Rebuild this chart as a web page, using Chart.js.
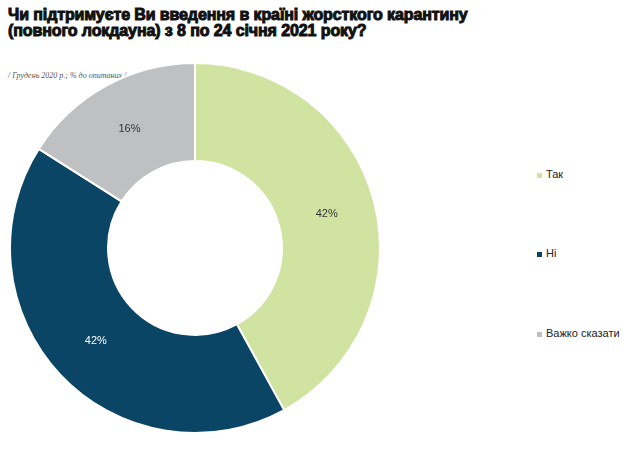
<!DOCTYPE html>
<html><head><meta charset="utf-8">
<script src="https://cdn.jsdelivr.net/npm/chart.js@4"></script>
<style>
body{margin:0;width:640px;height:454px;background:#fff;position:relative;overflow:hidden;font-family:"Liberation Sans",Arial,sans-serif}
#t{position:absolute;left:8px;top:7px;font-size:16px;font-weight:900;line-height:16px;color:#111;letter-spacing:-0.1px;-webkit-text-stroke:1px #111}
#s{position:absolute;left:8px;top:71px;font-family:"Liberation Serif",serif;font-style:italic;font-size:8px;color:#555}
#c{position:absolute;left:7px;top:60px;width:376px;height:376px}
.lg{position:absolute;left:537px;font-size:11px;color:#222}
.lg i{display:inline-block;width:5px;height:5px;margin-right:4px;vertical-align:middle}
</style></head><body>
<div id="t">Чи підтримуєте Ви введення в країні жорсткого карантину<br>(повного локдауна) з 8 по 24 січня 2021 року?</div>
<div id="s">/ Грудень 2020 р.; % до опитаних /</div>
<div id="c"><canvas id="ch"></canvas></div>
<div id="lg"></div>
<script>
const categories=["Так","Ні","Важко сказати"];
const values=[42,42,16];
const colors=["#d1e3a1","#0b4566","#bfc0c2"];
const labelColors=["#333","#fff","#333"];
const lg=document.getElementById('lg');
const ys=[168,247,327];
categories.forEach((c,i)=>{const d=document.createElement('div');d.className='lg';d.style.top=ys[i]+'px';d.innerHTML='<i style="background:'+colors[i]+'"></i>'+c;lg.appendChild(d);});
const lbl={id:'lbl',afterDatasetsDraw(ch){const ctx=ch.ctx;ch.getDatasetMeta(0).data.forEach((a,i)=>{const p=a.tooltipPosition();ctx.save();ctx.font='11px "Liberation Sans",Arial';ctx.fillStyle=labelColors[i];ctx.textAlign='center';ctx.textBaseline='middle';ctx.fillText(values[i]+'%',p.x,p.y);ctx.restore();});}};
new Chart(document.getElementById('ch'),{type:'doughnut',data:{labels:categories,datasets:[{data:values,backgroundColor:colors,borderColor:'#fff',borderWidth:2}]},
options:{responsive:true,maintainAspectRatio:false,animation:false,cutout:'47%',layout:{padding:2},plugins:{legend:{display:false},tooltip:{enabled:false}}},plugins:[lbl]});
</script></body></html>
